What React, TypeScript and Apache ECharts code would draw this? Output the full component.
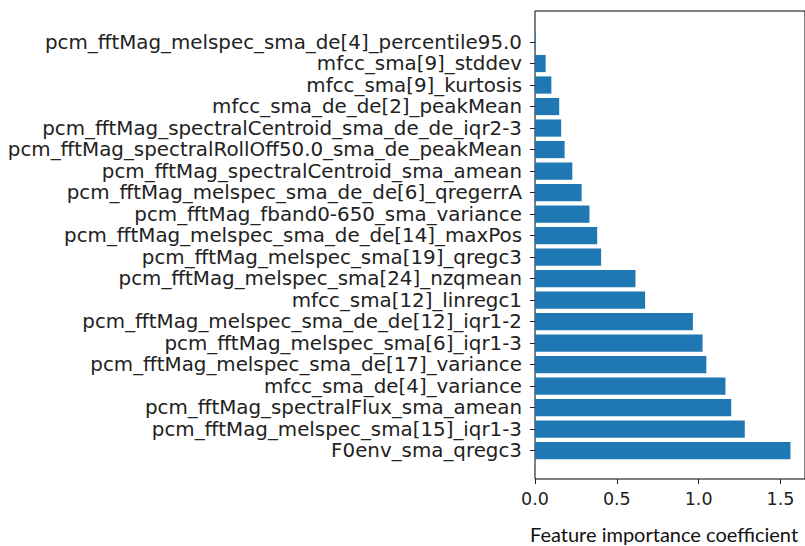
import React, { useEffect, useRef } from "react";
import * as echarts from "echarts";

// Feature names, listed top to bottom
const features: string[] = [
  "pcm_fftMag_melspec_sma_de[4]_percentile95.0",
  "mfcc_sma[9]_stddev",
  "mfcc_sma[9]_kurtosis",
  "mfcc_sma_de_de[2]_peakMean",
  "pcm_fftMag_spectralCentroid_sma_de_de_iqr2-3",
  "pcm_fftMag_spectralRollOff50.0_sma_de_peakMean",
  "pcm_fftMag_spectralCentroid_sma_amean",
  "pcm_fftMag_melspec_sma_de_de[6]_qregerrA",
  "pcm_fftMag_fband0-650_sma_variance",
  "pcm_fftMag_melspec_sma_de_de[14]_maxPos",
  "pcm_fftMag_melspec_sma[19]_qregc3",
  "pcm_fftMag_melspec_sma[24]_nzqmean",
  "mfcc_sma[12]_linregc1",
  "pcm_fftMag_melspec_sma_de_de[12]_iqr1-2",
  "pcm_fftMag_melspec_sma[6]_iqr1-3",
  "pcm_fftMag_melspec_sma_de[17]_variance",
  "mfcc_sma_de[4]_variance",
  "pcm_fftMag_spectralFlux_sma_amean",
  "pcm_fftMag_melspec_sma[15]_iqr1-3",
  "F0env_sma_qregc3",
];

// Importance coefficient of each feature (same order)
const importance: number[] = [
  0.004, 0.065, 0.1, 0.148, 0.16, 0.181, 0.228, 0.285, 0.333, 0.38,
  0.404, 0.614, 0.673, 0.965, 1.024, 1.047, 1.164, 1.199, 1.282, 1.561,
];

const xMin = 0;
const xMax = 1.65;
const xInterval = 0.5;
const xTitle = "Feature importance coefficient";

export default function App() {
  const ref = useRef<HTMLDivElement>(null);

  useEffect(() => {
    if (!ref.current) return;
    const chart = echarts.init(ref.current, null, { renderer: "svg" });
    const labelFont = "'DejaVu Sans', sans-serif";

    chart.setOption({
      animation: false,
      backgroundColor: "#ffffff",
      grid: [
        // bars
        { left: 535, top: 31.25, width: 279, height: 430.2 },
        // outer frame with the x axis
        {
          left: 535,
          top: 11,
          width: 279,
          height: 468,
          show: true,
          borderColor: "#000",
          borderWidth: 1,
          backgroundColor: "transparent",
        },
      ],
      xAxis: [
        {
          gridIndex: 0,
          type: "value",
          min: xMin,
          max: xMax,
          show: false,
        },
        {
          gridIndex: 1,
          type: "value",
          min: xMin,
          max: xMax,
          interval: xInterval,
          axisLine: { show: false },
          axisTick: {
            show: true,
            length: 5,
            lineStyle: { color: "#222", width: 1 },
          },
          axisLabel: {
            margin: 11,
            showMaxLabel: false,
            fontFamily: labelFont,
            fontSize: 17.5,
            color: "#222",
            formatter: (v: number) => v.toFixed(1),
          },
          splitLine: { show: false },
        },
      ],
      yAxis: [
        {
          gridIndex: 0,
          type: "category",
          inverse: true,
          data: features,
          axisLine: { show: false },
          axisTick: {
            show: true,
            alignWithLabel: true,
            interval: 0,
            length: 5,
            lineStyle: { color: "#222", width: 1 },
          },
          axisLabel: {
            interval: 0,
            hideOverlap: false,
            margin: 13,
            fontFamily: labelFont,
            fontSize: 19.85,
            lineHeight: 20,
            color: "#222",
          },
        },
        {
          gridIndex: 1,
          type: "value",
          min: 0,
          max: 1,
          show: false,
        },
      ],
      series: [
        {
          type: "bar",
          xAxisIndex: 0,
          yAxisIndex: 0,
          data: importance,
          barCategoryGap: "20%",
          itemStyle: { color: "#1f77b4" },
        },
      ],
      graphic: [
        {
          type: "text",
          x: 664,
          y: 534,
          style: {
            text: xTitle,
            fontFamily: "Lato, sans-serif",
            fontSize: 20,
            fill: "#111",
            textAlign: "center",
            textVerticalAlign: "middle",
          },
        },
      ],
    });

    return () => chart.dispose();
  }, []);

  return (
    <div
      ref={ref}
      style={{ position: "fixed", left: 0, top: 0, width: 805, height: 546 }}
    />
  );
}
